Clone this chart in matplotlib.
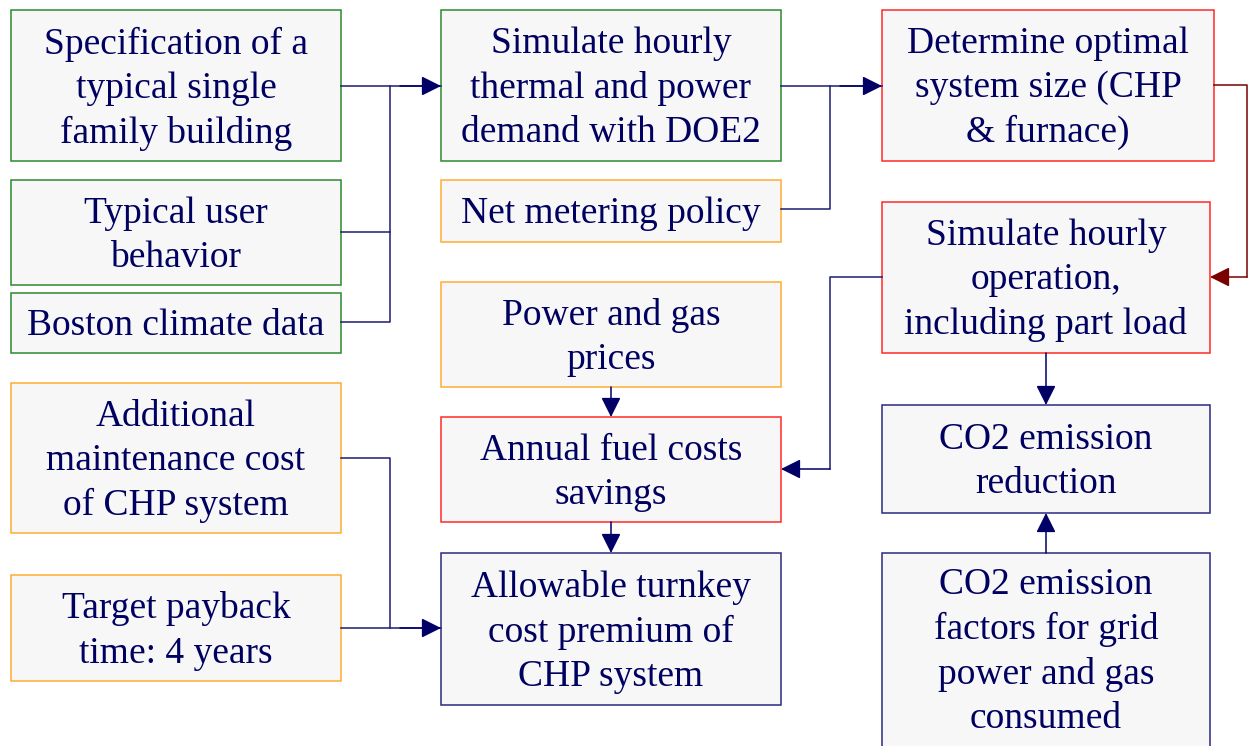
"""
Flowchart: CHP system evaluation for a single family building.
"""

import matplotlib.pyplot as plt
from matplotlib.patches import Rectangle

W, H = 1248, 746

GREEN = "#2b8a2b"
ORANGE = "#ffad33"
RED = "#ff2a2a"
NAVY = "#2a2a80"
TEXT = "#000060"
LINE = "#1c1c70"
HEAD = "#000066"
DARKRED = "#7a0000"
FILL = "#f7f7f7"

# box labels (text content of the chart)
labels = [
    "Specification of a\ntypical single\nfamily building",
    "Typical user\nbehavior",
    "Boston climate data",
    "Additional\nmaintenance cost\nof CHP system",
    "Target payback\ntime: 4 years",
    "Simulate hourly\nthermal and power\ndemand with DOE2",
    "Net metering policy",
    "Power and gas\nprices",
    "Annual fuel costs\nsavings",
    "Allowable turnkey\ncost premium of\nCHP system",
    "Determine optimal\nsystem size (CHP\n& furnace)",
    "Simulate hourly\noperation,\nincluding part load",
    "CO2 emission\nreduction",
    "CO2 emission\nfactors for grid\npower and gas\nconsumed",
]

# layout: (left, top, right, bottom) in pixels, and edge colour
boxes = [
    (11, 10, 341, 161, GREEN),
    (11, 180, 341, 285, GREEN),
    (11, 293, 341, 353, GREEN),
    (11, 383, 341, 533, ORANGE),
    (11, 575, 341, 681, ORANGE),
    (441, 10, 781, 161, GREEN),
    (441, 180, 781, 242, ORANGE),
    (441, 282, 781, 387, ORANGE),
    (441, 417, 781, 522, RED),
    (441, 553, 781, 705, NAVY),
    (882, 10, 1214, 161, RED),
    (882, 202, 1210, 353, RED),
    (882, 405, 1210, 513, NAVY),
    (882, 553, 1210, 790, NAVY),
]

# connectors: plain line segments, then arrows (start, end, colour)
plain_lines = [
    ([341, 390], [232, 232], LINE),
    ([341, 390, 390], [322, 322, 86], LINE),
    ([341, 441], [86, 86], LINE),
    ([781, 830, 830], [209, 209, 86], LINE),
    ([781, 882], [86, 86], LINE),
    ([1214, 1247, 1247], [85, 85, 277], DARKRED),
    ([882, 830, 830], [277, 277, 469], LINE),
    ([341, 390, 390], [458, 458, 628], LINE),
    ([341, 441], [628, 628], LINE),
]

arrows = [
    ((400, 86), (441, 86), HEAD),
    ((840, 86), (882, 86), HEAD),
    ((1247, 277), (1210, 277), DARKRED),
    ((830, 469), (781, 469), HEAD),
    ((1046, 353), (1046, 405), HEAD),
    ((611, 387), (611, 417), HEAD),
    ((611, 522), (611, 553), HEAD),
    ((400, 628), (441, 628), HEAD),
    ((1046, 553), (1046, 513), HEAD),
]


def main() -> None:
    fig = plt.figure(figsize=(W / 100, H / 100), dpi=100)
    ax = fig.add_axes([0, 0, 1, 1])
    ax.set_xlim(0, W)
    ax.set_ylim(H, 0)
    ax.axis("off")

    for label, (x0, y0, x1, y1, color) in zip(labels, boxes):
        ax.add_patch(
            Rectangle(
                (x0, y0), x1 - x0, y1 - y0,
                facecolor=FILL, edgecolor=color, linewidth=1.1, zorder=1,
            )
        )
        # the last box runs off the bottom edge
        cy = (y0 + y1) / 2 if y1 <= H else y0 + 96
        ax.text(
            (x0 + x1) / 2, cy + 3, label,
            ha="center", va="center", color=TEXT,
            fontsize=27, family="Liberation Serif",
            linespacing=1.36, zorder=3,
        )

    for xs, ys, color in plain_lines:
        ax.plot(xs, ys, color=color, linewidth=1.1, zorder=2)

    for start, end, color in arrows:
        ax.annotate(
            "", xy=end, xytext=start,
            arrowprops=dict(
                arrowstyle="-|>", color=color, linewidth=1.1,
                mutation_scale=30, shrinkA=0, shrinkB=0,
            ),
            zorder=2,
        )

    fig.savefig("out.png", dpi=100)
    plt.close(fig)


if __name__ == "__main__":
    main()
